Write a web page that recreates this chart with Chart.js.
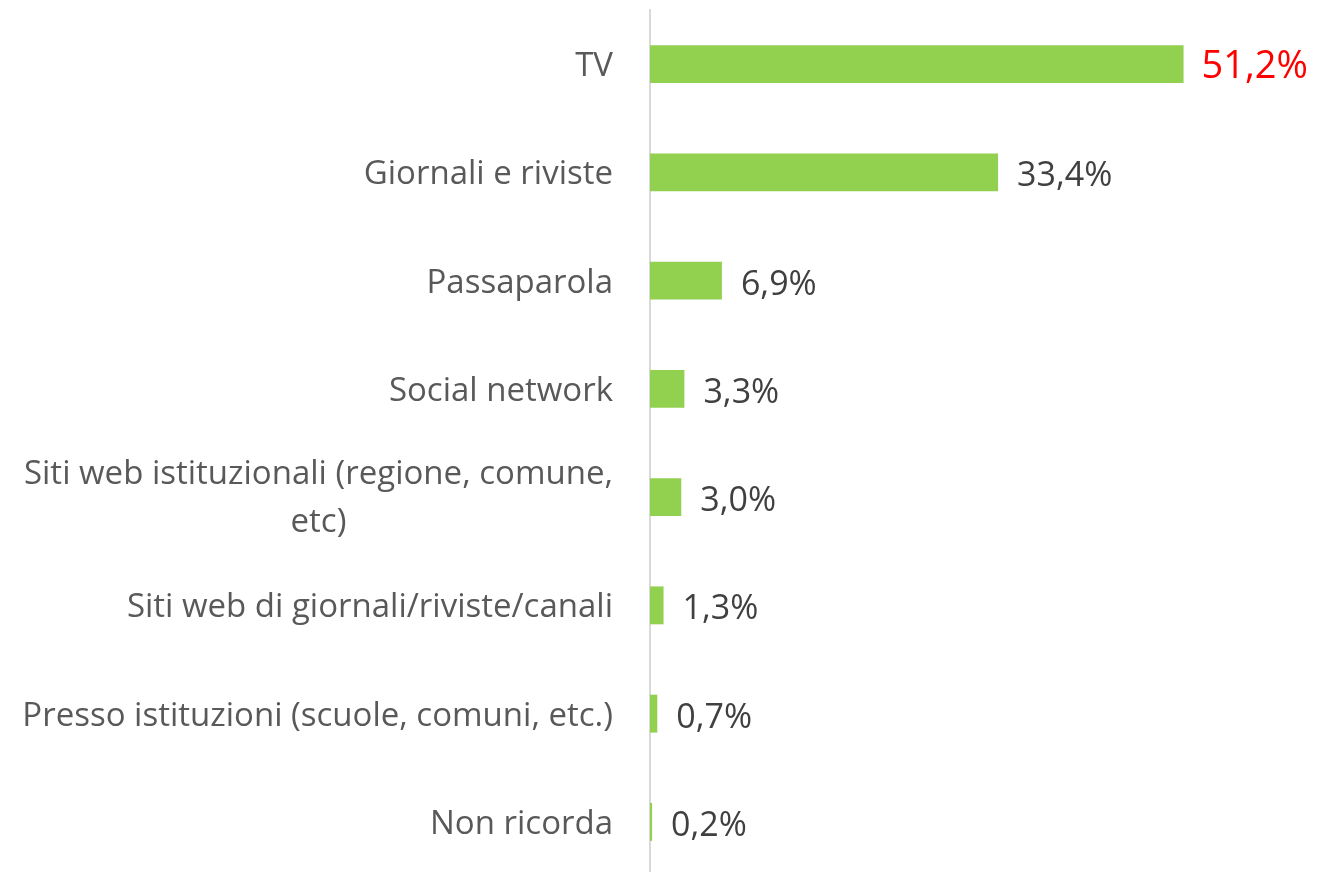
<!DOCTYPE html>
<html>
<head>
<meta charset="utf-8">
<script src="https://cdn.jsdelivr.net/npm/chart.js@4/dist/chart.umd.min.js"></script>
<style>
  html, body { margin: 0; padding: 0; background: #fff; overflow: hidden; }
  #wrap { width: 1318px; height: 876px; position: relative; }
</style>
</head>
<body>
<div id="wrap"><canvas id="chart"></canvas></div>
<script>
// Data
const labels = [
    'TV',
    'Giornali e riviste',
    'Passaparola',
    'Social network',
    ['Siti web istituzionali (regione, comune,', 'etc)'],
    'Siti web di giornali/riviste/canali',
    'Presso istituzioni (scuole, comuni, etc.)',
    'Non ricorda'
];
const values = [51.2, 33.4, 6.9, 3.3, 3.0, 1.3, 0.7, 0.2];
const valueLabels = ['51,2%', '33,4%', '6,9%', '3,3%', '3,0%', '1,3%', '0,7%', '0,2%'];

const FONT = '"Open Sans", sans-serif';

// draws category names and value labels next to the bars
const labelPlugin = {
    id: 'labelPlugin',
    afterDatasetsDraw(chart) {
        const ctx = chart.ctx;
        const yScale = chart.scales.y;
        const meta = chart.getDatasetMeta(0);
        const right = yScale.right - 37;
        ctx.save();
        ctx.textBaseline = 'alphabetic';

        labels.forEach((lab, i) => {
            const y = yScale.getPixelForValue(i);
            ctx.fillStyle = '#595959';
            ctx.font = '33px ' + FONT;
            if (Array.isArray(lab)) {
                // two lines, second one centred under the first
                const w = ctx.measureText(lab[0]).width;
                const cx = right - w / 2;
                ctx.textAlign = 'center';
                ctx.fillText(lab[0], cx, y - 13);
                ctx.fillText(lab[1], cx, y + 35);
            } else {
                ctx.textAlign = 'right';
                ctx.fillText(lab, right, y + 12);
            }
        });

        meta.data.forEach((bar, i) => {
            const first = i === 0;
            ctx.textAlign = 'left';
            ctx.fillStyle = first ? '#FF0000' : '#404040';
            ctx.font = (first ? '38px ' : '34px ') + FONT;
            ctx.fillText(valueLabels[i], bar.x + (first ? 18 : 19), bar.y + 14);
        });
        ctx.restore();
    }
};

const ctx = document.getElementById('chart').getContext('2d');
new Chart(ctx, {
    type: 'bar',
    data: {
        labels: labels,
        datasets: [{
            data: values,
            backgroundColor: '#92D050',
            barPercentage: 0.35,
            categoryPercentage: 1.0
        }]
    },
    options: {
        indexAxis: 'y',
        responsive: true,
        maintainAspectRatio: false,
        animation: false,
        layout: { padding: { top: 10, bottom: 0, left: 0, right: 0 } },
        scales: {
            x: {
                display: false,
                min: 0,
                max: 64.1
            },
            y: {
                afterFit(scale) { scale.width = 650; },
                ticks: { display: false },
                grid: { display: false },
                border: { display: true, color: '#d9d9d9', width: 2 }
            }
        },
        plugins: {
            legend: { display: false },
            tooltip: { enabled: false }
        }
    },
    plugins: [labelPlugin]
});
</script>
</body>
</html>
